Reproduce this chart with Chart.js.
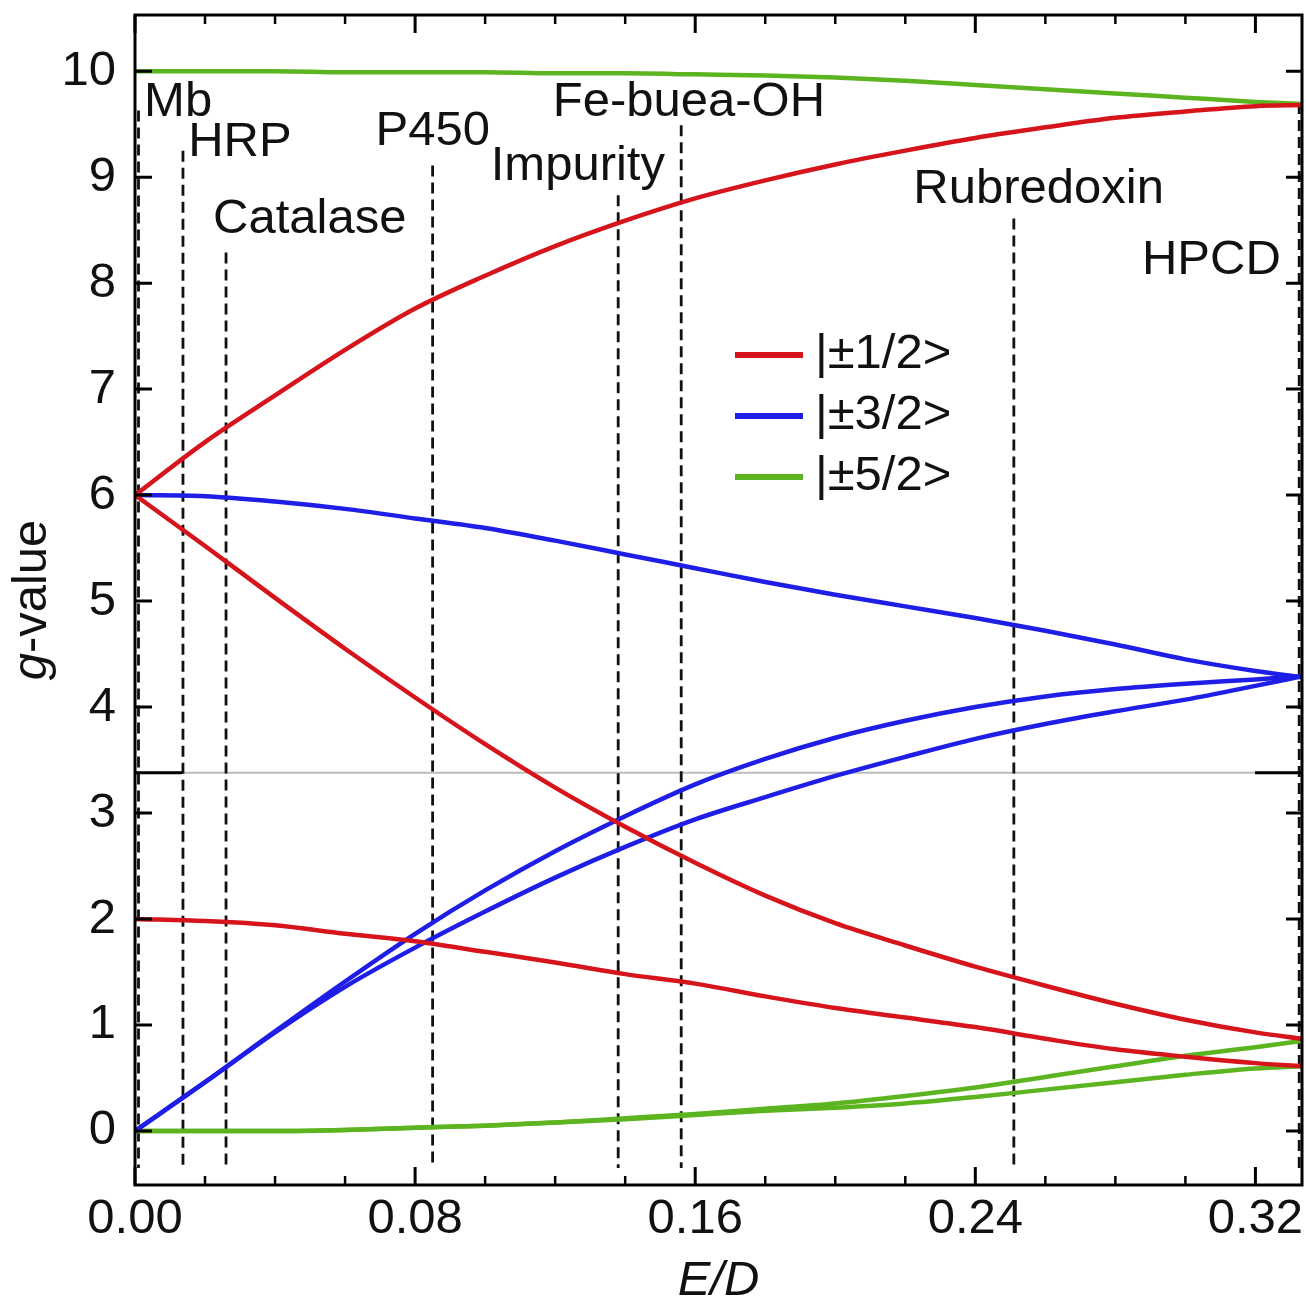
<!DOCTYPE html>
<html>
<head>
<meta charset="utf-8">
<title>g-value vs E/D</title>
<script src="https://cdn.jsdelivr.net/npm/chart.js@4.4.1/dist/chart.umd.min.js"></script>
<style>
  html, body { margin: 0; padding: 0; background: #fff; }
  .chart-box { position: relative; width: 1306px; height: 1308px; }
</style>
</head>
<body>
<div class="chart-box"><canvas id="gChart"></canvas></div>
<script>
const edRatio = [0, 0.02, 0.04, 0.06, 0.08, 0.10, 0.12, 0.14, 0.16, 0.18, 0.20, 0.22, 0.24, 0.26, 0.28, 0.30, 0.32, 0.3333];

// |±1/2>
const halfHigh = [6.00, 6.50, 6.94, 7.37, 7.76, 8.07, 8.35, 8.59, 8.80, 8.97, 9.12, 9.25, 9.37, 9.47, 9.56, 9.62, 9.67, 9.68];
const halfMid  = [6.00, 5.52, 5.03, 4.55, 4.09, 3.65, 3.24, 2.87, 2.53, 2.22, 1.96, 1.75, 1.55, 1.37, 1.20, 1.05, 0.93, 0.87];
const halfLow  = [2.00, 1.98, 1.94, 1.86, 1.79, 1.69, 1.59, 1.48, 1.39, 1.27, 1.16, 1.07, 0.98, 0.87, 0.77, 0.70, 0.64, 0.61];
// |±3/2>
const threeHigh = [6.00, 5.99, 5.94, 5.87, 5.78, 5.69, 5.57, 5.44, 5.31, 5.18, 5.06, 4.95, 4.84, 4.72, 4.59, 4.45, 4.34, 4.28];
const threeMid  = [0.00, 0.46, 0.94, 1.41, 1.86, 2.27, 2.64, 2.97, 3.27, 3.51, 3.71, 3.87, 4.00, 4.10, 4.17, 4.22, 4.26, 4.29];
const threeLow  = [0.00, 0.46, 0.93, 1.36, 1.73, 2.07, 2.39, 2.68, 2.94, 3.15, 3.35, 3.53, 3.70, 3.84, 3.96, 4.07, 4.20, 4.29];
// |±5/2>
const fiveHigh = [10.00, 10.00, 10.00, 9.99, 9.99, 9.99, 9.98, 9.98, 9.97, 9.96, 9.94, 9.91, 9.87, 9.83, 9.79, 9.75, 9.71, 9.69];
const fiveMid  = [0.00, 0.00, 0.00, 0.01, 0.03, 0.05, 0.08, 0.12, 0.16, 0.21, 0.26, 0.33, 0.41, 0.51, 0.61, 0.71, 0.79, 0.85];
const fiveLow  = [0.00, 0.00, 0.00, 0.01, 0.03, 0.05, 0.08, 0.11, 0.15, 0.19, 0.22, 0.26, 0.32, 0.39, 0.46, 0.53, 0.59, 0.61];

const seriesNames = ['|±1/2>', '|±3/2>', '|±5/2>'];
const seriesColors = ['#d6141c', '#1e1ee6', '#5cb520'];

// proteins marked with dashed lines at their E/D
const markerNames = ['Mb', 'HRP', 'Catalase', 'P450', 'Impurity', 'Fe-buea-OH', 'Rubredoxin', 'HPCD'];
const markerED = [0.001, 0.0137, 0.026, 0.085, 0.138, 0.156, 0.251, 0.3325];
const markerTop = [9.63, 9.25, 8.29, 9.11, 8.83, 9.49, 8.61, 9.70];
const markerBottom = -0.35;
const labelED = [0.0026, 0.0152, 0.0223, 0.0687, 0.1016, 0.1193, 0.2223, 0.2876];
const labelG = [9.58, 9.20, 8.47, 9.30, 8.97, 9.58, 8.76, 8.09];

const xMax = 0.3333;
const xMajorStep = 0.08;
const xMinorStep = 0.02;
const yMin = -0.51;
const yMax = 10.53;
const breakG = 3.38;

const fontFamily = "'Liberation Sans', Arial, Helvetica, sans-serif";

const curve = (values, color) => ({
    data: edRatio.map((x, i) => ({ x: x, y: values[i] })),
    borderColor: color,
    borderWidth: 4.5,
    pointRadius: 0,
    cubicInterpolationMode: 'monotone',
    order: 1
});

const datasets = [
    curve(halfHigh, seriesColors[0]), curve(halfMid, seriesColors[0]), curve(halfLow, seriesColors[0]),
    curve(threeHigh, seriesColors[1]), curve(threeMid, seriesColors[1]), curve(threeLow, seriesColors[1]),
    curve(fiveHigh, seriesColors[2]), curve(fiveMid, seriesColors[2]), curve(fiveLow, seriesColors[2])
];

markerED.forEach((ed, i) => {
    datasets.push({
        data: [{ x: ed, y: markerTop[i] }, { x: ed, y: markerBottom }],
        borderColor: '#111',
        borderWidth: 2.8,
        borderDash: [11, 6],
        pointRadius: 0,
        order: 2
    });
});

// frame, inward ticks, axis break, labels, legend and axis titles
const decorations = {
    id: 'decorations',
    beforeDatasetsDraw(chart) {
        const { ctx, chartArea: a, scales: { y } } = chart;
        const by = y.getPixelForValue(breakG);
        ctx.save();
        ctx.strokeStyle = '#bdbdbd';
        ctx.lineWidth = 2;
        ctx.beginPath();
        ctx.moveTo(a.left, by);
        ctx.lineTo(a.right, by);
        ctx.stroke();
        ctx.restore();
    },
    afterDatasetsDraw(chart) {
        const { ctx, chartArea: a, scales: { x, y } } = chart;
        ctx.save();
        ctx.strokeStyle = '#000';
        ctx.lineWidth = 3;
        ctx.strokeRect(a.left, a.top, a.right - a.left, a.bottom - a.top);

        const perMajor = Math.round(xMajorStep / xMinorStep);
        for (let i = 0; i * xMinorStep <= xMax; i++) {
            const px = x.getPixelForValue(i * xMinorStep);
            const len = i % perMajor === 0 ? 18 : 9;
            ctx.lineWidth = i % perMajor === 0 ? 3 : 2.5;
            ctx.beginPath();
            ctx.moveTo(px, a.bottom);
            ctx.lineTo(px, a.bottom - len);
            ctx.moveTo(px, a.top);
            ctx.lineTo(px, a.top + len);
            ctx.stroke();
        }
        ctx.lineWidth = 3;
        y.ticks.forEach(t => {
            const py = y.getPixelForValue(t.value);
            ctx.beginPath();
            ctx.moveTo(a.left, py);
            ctx.lineTo(a.left + 17, py);
            ctx.moveTo(a.right, py);
            ctx.lineTo(a.right - 16, py);
            ctx.stroke();
        });

        const by = y.getPixelForValue(breakG);
        ctx.beginPath();
        ctx.moveTo(a.left, by);
        ctx.lineTo(a.left + 47, by);
        ctx.moveTo(a.right - 47, by);
        ctx.lineTo(a.right, by);
        ctx.stroke();

        ctx.fillStyle = '#111';
        ctx.font = '49px ' + fontFamily;
        ctx.textAlign = 'left';
        ctx.textBaseline = 'alphabetic';
        markerNames.forEach((name, i) => {
            ctx.fillText(name, x.getPixelForValue(labelED[i]), y.getPixelForValue(labelG[i]));
        });

        seriesNames.forEach((name, i) => {
            const ly = a.top + 340 + i * 61;
            ctx.strokeStyle = seriesColors[i];
            ctx.lineWidth = 6;
            ctx.beginPath();
            ctx.moveTo(a.left + 600, ly);
            ctx.lineTo(a.left + 668, ly);
            ctx.stroke();
            ctx.fillText(name, a.left + 680, ly + 13);
        });
        ctx.restore();
    },
    afterDraw(chart) {
        const { ctx, chartArea: a } = chart;
        ctx.save();
        ctx.fillStyle = '#111';
        ctx.textBaseline = 'middle';
        ctx.textAlign = 'center';
        ctx.font = 'italic 49px ' + fontFamily;
        ctx.fillText('E/D', (a.left + a.right) / 2, 1281);

        // rotated y title: italic g, upright "-value"
        ctx.translate(46, (a.top + a.bottom) / 2);
        ctx.rotate(-Math.PI / 2);
        ctx.textAlign = 'left';
        ctx.textBaseline = 'alphabetic';
        const italic = 'italic 49px ' + fontFamily;
        const upright = '49px ' + fontFamily;
        ctx.font = italic;
        const gw = ctx.measureText('g').width;
        ctx.font = upright;
        const rw = ctx.measureText('-value').width;
        const start = -(gw + rw) / 2;
        ctx.font = italic;
        ctx.fillText('g', start, 0);
        ctx.font = upright;
        ctx.fillText('-value', start + gw, 0);
        ctx.restore();
    }
};

const ctx = document.getElementById('gChart').getContext('2d');
const gChart = new Chart(ctx, {
    type: 'line',
    data: { datasets: datasets },
    options: {
        responsive: true,
        maintainAspectRatio: false,
        animation: false,
        events: [],
        layout: { padding: { top: 15, right: 4, left: 0, bottom: 0 } },
        plugins: {
            legend: { display: false },
            tooltip: { enabled: false }
        },
        scales: {
            x: {
                type: 'linear',
                min: 0,
                max: xMax,
                grid: { display: false, drawTicks: false },
                border: { display: false },
                ticks: {
                    stepSize: xMajorStep,
                    includeBounds: false,
                    padding: 5,
                    color: '#111',
                    font: { family: fontFamily, size: 49 },
                    maxRotation: 0,
                    callback: v => v.toFixed(2)
                },
                afterFit: s => {
                    s.height = 123;
                    s.paddingLeft = 0;
                    s.paddingRight = 0;
                }
            },
            y: {
                type: 'linear',
                min: yMin,
                max: yMax,
                grid: { display: false, drawTicks: false },
                border: { display: false },
                ticks: {
                    stepSize: 1,
                    includeBounds: false,
                    padding: 19,
                    color: '#111',
                    font: { family: fontFamily, size: 49 }
                },
                afterFit: s => {
                    s.width = 135;
                    s.paddingTop = 0;
                    s.paddingBottom = 0;
                }
            }
        }
    },
    plugins: [decorations]
});
</script>
</body>
</html>
